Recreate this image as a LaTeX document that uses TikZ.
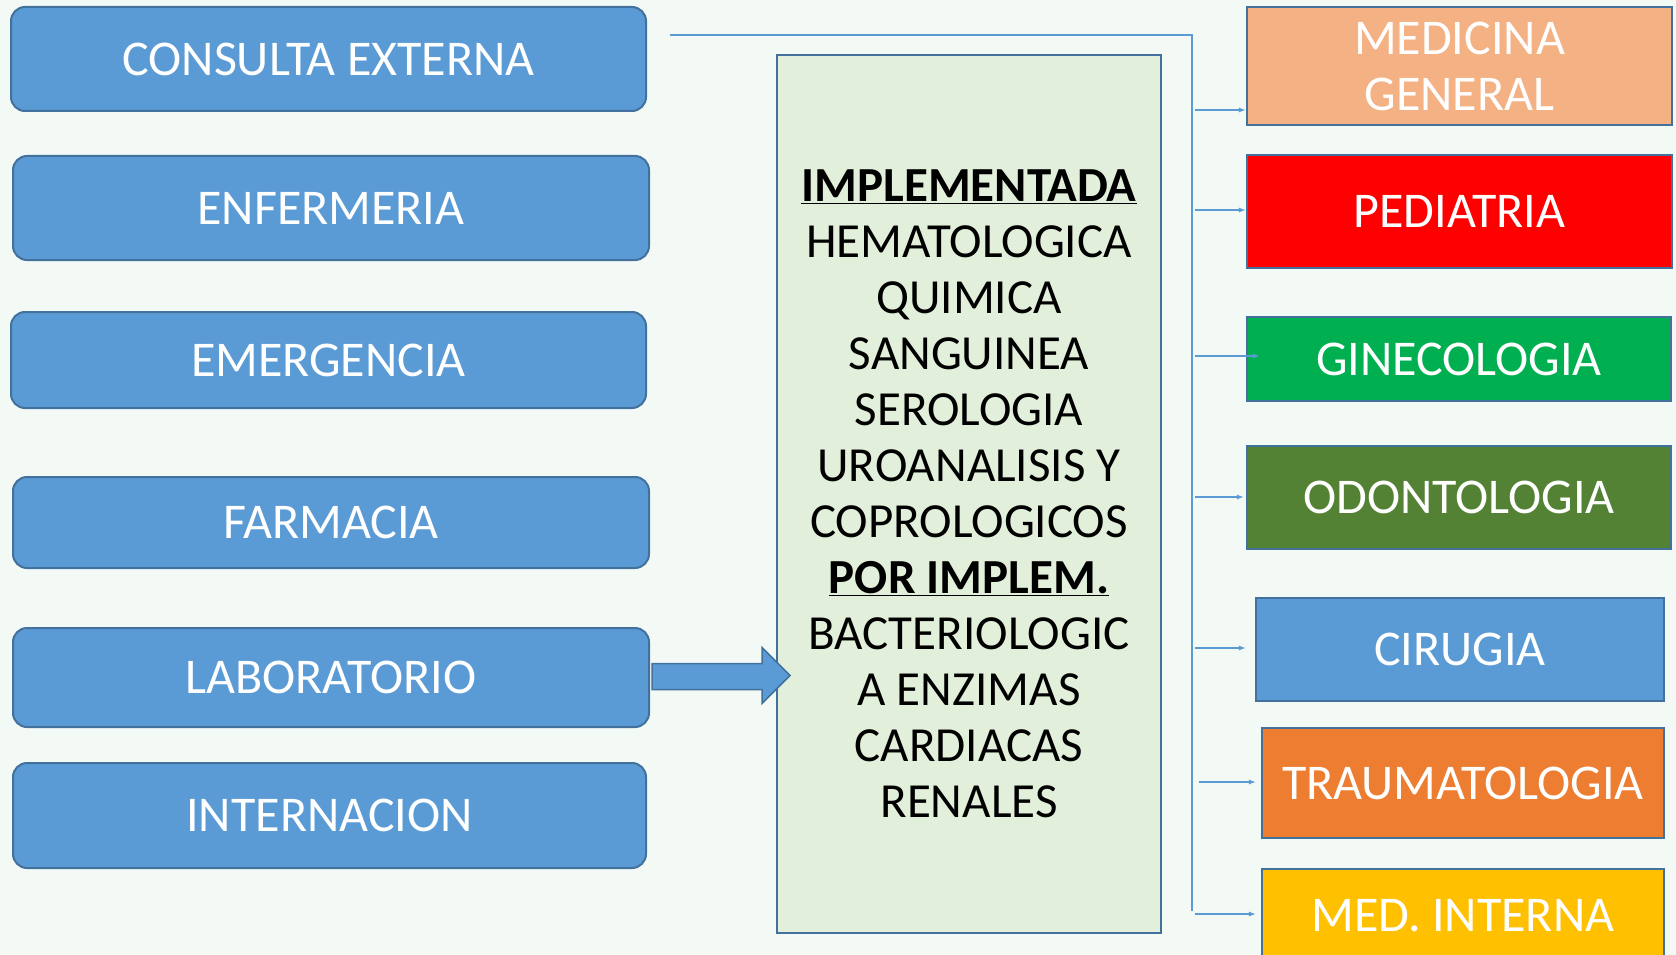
\documentclass[tikz,border=0pt]{standalone}
\usepackage{fontspec}
\setmainfont{Carlito}
\usetikzlibrary{arrows.meta,calc}
\definecolor{bg}{HTML}{F3FAF6}
\definecolor{bord}{HTML}{41719C}
\definecolor{blu}{HTML}{5B9BD5}
\definecolor{lineblue}{HTML}{5B9BD5}
\definecolor{cfill}{HTML}{E2EFDA}
\definecolor{salmon}{HTML}{F4B183}
\definecolor{pred}{HTML}{FF0000}
\definecolor{gin}{HTML}{00B050}
\definecolor{odo}{HTML}{548235}
\definecolor{tra}{HTML}{ED7D31}
\definecolor{mint}{HTML}{FFC000}
\begin{document}
\begin{tikzpicture}[x=1pt,y=-1pt,
  lbox/.style={draw=bord, fill=blu, line width=2pt, rounded corners=14pt, text=white, font=\fontsize{50}{56}\selectfont, inner sep=0pt},
  rbox/.style={draw=bord, line width=2.2pt, text=white, font=\fontsize{50}{56}\selectfont, align=center, inner sep=0pt},
  cbox/.style={draw=bord, fill=cfill, line width=2.5pt, text=black, font=\fontsize{49}{56}\selectfont, align=center, inner sep=0pt},
  conn/.style={draw=lineblue, line width=1.2pt},
  branch/.style={conn, -{Latex[length=7pt,width=5pt]}},
  bigarrow/.style={draw=bord, fill=blu, line width=1.5pt},
]
\fill[bg] (0,0) rectangle (1676,955);
\useasboundingbox (0,0) rectangle (1676,955);

% left boxes
\node[lbox, minimum width=635, minimum height=104] (ce)  at (328.5,59)   {CONSULTA EXTERNA};
\node[lbox, minimum width=636, minimum height=104] (enf) at (331,208)    {ENFERMERIA};
\node[lbox, minimum width=635, minimum height=96]  (emg) at (328.5,360)  {EMERGENCIA};
\node[lbox, minimum width=636, minimum height=91]  (far) at (331,522.5)  {FARMACIA};
\node[lbox, minimum width=636, minimum height=99]  (lab) at (331,677.5)  {LABORATORIO};
\node[lbox, minimum width=633, minimum height=105] (int) at (329.5,815.5) {INTERNACION};

% center box
\node[cbox, minimum width=384, minimum height=878] (cen) at (969,494)
  {\underline{\textbf{IMPLEMENTADA}}\\HEMATOLOGICA\\QUIMICA\\SANGUINEA\\SEROLOGIA\\UROANALISIS Y\\COPROLOGICOS\\\underline{\textbf{POR IMPLEM.}}\\BACTERIOLOGIC\\A ENZIMAS\\CARDIACAS\\RENALES};

% right boxes
\node[rbox, fill=salmon, minimum width=425, minimum height=118] (medg) at (1459.5,66)  {MEDICINA\\GENERAL};
\node[rbox, fill=pred,   minimum width=425, minimum height=113] (ped)  at (1459.5,211.5) {PEDIATRIA};
\node[rbox, fill=gin,    minimum width=424, minimum height=84]  (gine) at (1459,359)    {GINECOLOGIA};
\node[rbox, fill=odo,    minimum width=424, minimum height=103] (odon) at (1459,497.5)  {ODONTOLOGIA};
\node[rbox, fill=blu,    minimum width=408, minimum height=103] (cir)  at (1460,649.5)  {CIRUGIA};
\node[rbox, fill=tra,    minimum width=402, minimum height=110] (trau) at (1463,783)    {TRAUMATOLOGIA};
\node[rbox, fill=mint,   minimum width=402, minimum height=94]  (medi) at (1463,916)    {MED. INTERNA};

% trunk connector
\coordinate (tstart) at (670,35);
\coordinate (tend) at (1192,911);
\draw[conn] (tstart) -| (tend);

% branches
\coordinate (b1) at (1195,110);
\coordinate (b2) at (1195,210);
\coordinate (b3) at (1195,356);
\coordinate (b4) at (1195,497);
\coordinate (b5) at (1195,648);
\coordinate (b6) at (1199,782);
\coordinate (b7) at (1195,914);
\draw[branch] (b1) -- (b1 -| medg.west);
\draw[branch] (b2) -- (b2 -| ped.west);
\draw[branch] (b3) -- ([xshift=14pt]b3 -| gine.west);
\draw[branch] (b4) -- ([xshift=-2pt]b4 -| odon.west);
\draw[branch] (b5) -- ([xshift=-9pt]b5 -| cir.west);
\draw[branch] (b6) -- ([xshift=-5pt]b6 -| trau.west);
\draw[branch] (b7) -- ([xshift=-5pt]b7 -| medi.west);

% big arrow laboratorio -> center
\draw[bigarrow] ($(lab.east)+(2,-14)$) -- ++(110,0) -- ++(0,-16) -- ($(lab.east)+(140,-2)$)
  -- ($(lab.east)+(112,26)$) -- ++(0,-14) -- ($(lab.east)+(2,12)$) -- cycle;
\end{tikzpicture}
\end{document}
